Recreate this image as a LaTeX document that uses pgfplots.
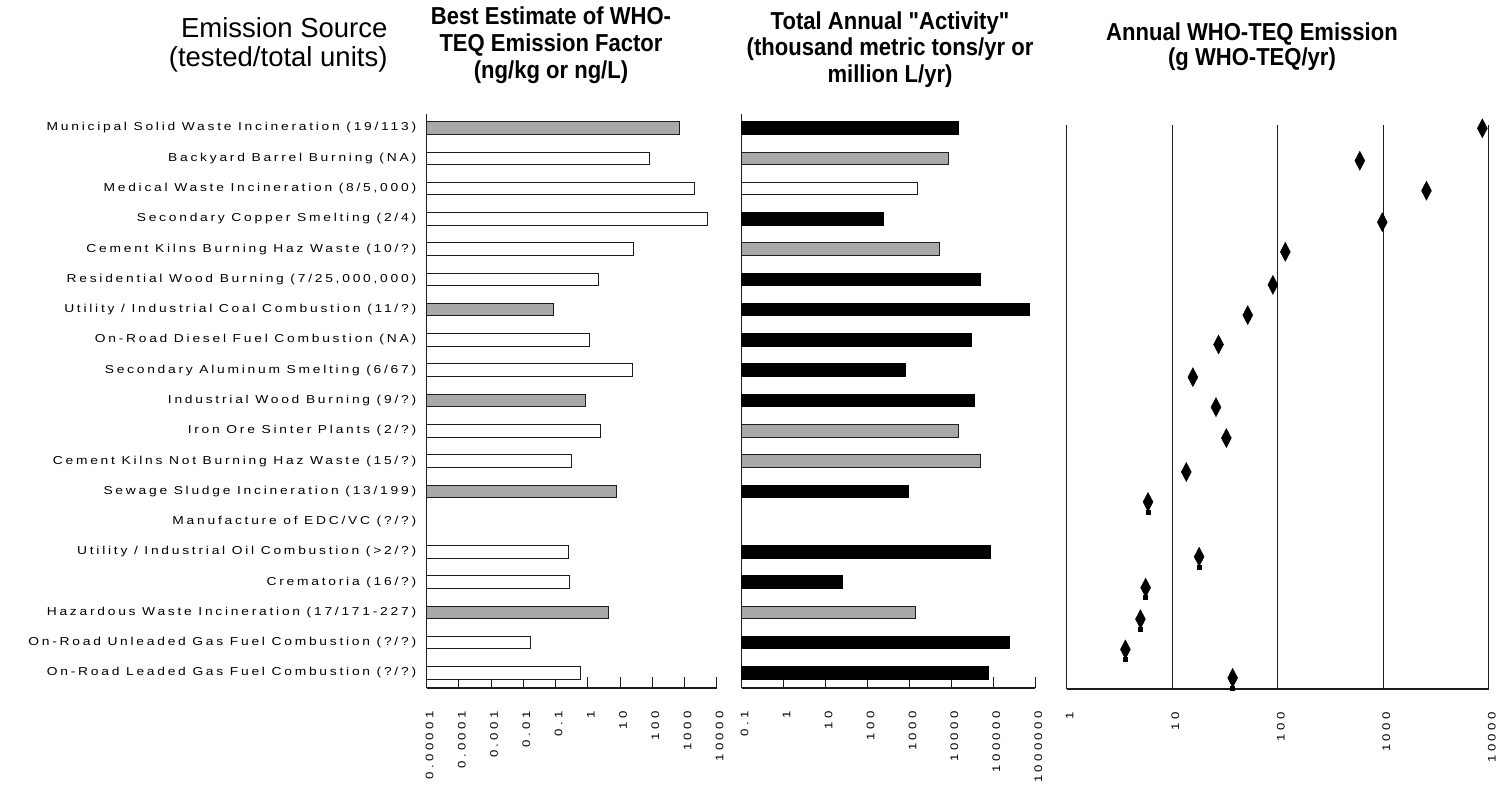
\documentclass[border=0pt]{standalone}
\usepackage{fontspec}
\setmainfont{Liberation Sans}
\newfontfamily\catfont[FakeStretch=1.2, LetterSpace=24]{Liberation Sans}
\newfontfamily\tickfont[FakeStretch=1.2, LetterSpace=30]{Liberation Sans}
\newfontfamily\headfont[FakeStretch=0.9]{Liberation Sans}
\usepackage{pgfplots}
\pgfplotsset{compat=1.18}

\definecolor{barGray}{RGB}{168,168,168}
\definecolor{edge}{RGB}{30,30,30}

\tikzset{
  hbar/.style={xbar, bar width=12.5pt, bar shift=0pt, line width=1pt, draw=edge},
  boldhead/.style={anchor=base, font=\headfont\bfseries\fontsize{24.5}{26}\selectfont},
  plainhead/.style={anchor=base east, font=\fontsize{27.5}{28}\selectfont},
}
\newcommand\tickstyle{font=\tickfont\fontsize{11}{13}\selectfont,
  yshift=-20pt, xshift=3pt, rotate=90, anchor=east}

% rows are numbered from the top: source k sits at y = 20 - k
\begin{document}
\begin{tikzpicture}
\useasboundingbox (0pt,0pt) rectangle (1501pt,785pt);

% ---- column headings ----
\node[plainhead] at (391pt,747.4pt) {Emission Source};
\node[plainhead] at (391pt,718.5pt) {(tested/total units)};
\node[boldhead] at (551pt,760pt) {Best Estimate of WHO-};
\node[boldhead] at (551pt,733.4pt) {TEQ Emission Factor};
\node[boldhead] at (551pt,706.8pt) {(ng/kg or ng/L)};
\node[boldhead] at (890pt,755.8pt) {Total Annual "Activity"};
\node[boldhead] at (890pt,729.2pt) {(thousand metric tons/yr or};
\node[boldhead] at (890pt,702.6pt) {million L/yr)};
\node[boldhead] at (1252pt,744.2pt) {Annual WHO-TEQ Emission};
\node[boldhead] at (1252pt,719.4pt) {(g WHO-TEQ/yr)};

% ---- emission factors ----
\begin{axis}[
  scale only axis, clip=false,
  at={(426.7pt,97pt)}, anchor=south west,
  width=290pt, height=574pt,
  xmode=log, log origin x=infty, xminorticks=false,
  xmin=1e-5, xmax=1e4,
  ymin=0.505, ymax=19.4623,
  axis x line*=bottom, axis y line*=left,
  tick align=inside, major tick length=11pt,
  axis line style={line width=1.1pt, edge},
  x tick style={line width=1pt, edge},
  y tick style={draw=none},
  xtick={1e-5,1e-4,1e-3,1e-2,1e-1,1,10,100,1000,10000},
  xticklabels={0.00001,0.0001,0.001,0.01,0.1,1,10,100,1000,10000},
  xticklabel style/.expand once={\tickstyle},
  ytick={1,...,19},
  yticklabels={
    On-Road Leaded Gas Fuel Combustion (?/?),
    On-Road Unleaded Gas Fuel Combustion (?/?),
    Hazardous Waste Incineration (17/171-227),
    Crematoria (16/?),
    Utility / Industrial Oil Combustion (>2/?),
    Manufacture of EDC/VC (?/?),
    Sewage Sludge Incineration (13/199),
    Cement Kilns Not Burning Haz Waste (15/?),
    Iron Ore Sinter Plants (2/?),
    Industrial Wood Burning (9/?),
    Secondary Aluminum Smelting (6/67),
    On-Road Diesel Fuel Combustion (NA),
    Utility / Industrial Coal Combustion (11/?),
    {Residential Wood Burning (7/25,000,000)},
    Cement Kilns Burning Haz Waste (10/?),
    Secondary Copper Smelting (2/4),
    {Medical Waste Incineration (8/5,000)},
    Backyard Barrel Burning (NA),
    Municipal Solid Waste Incineration (19/113)},
  yticklabel style={font=\catfont\fontsize{11.5}{13}\selectfont, anchor=east, xshift=-7pt},
]
\addplot[hbar, fill=barGray] coordinates {
  (700,19) (0.085,13) (0.87,10) (7.8,7) (4.4,3)};
\addplot[hbar, fill=white] coordinates {
  (84,18) (2000,17) (5000,16) (27,15) (2.2,14) (1.1,12) (25,11) (2.5,9)
  (0.32,8) (0.25,5) (0.27,4) (0.017,2) (0.58,1)};
\end{axis}

% ---- annual activity ----
\begin{axis}[
  scale only axis, clip=false,
  at={(741.7pt,97pt)}, anchor=south west,
  width=293.6pt, height=574pt,
  xmode=log, log origin x=infty, xminorticks=false,
  xmin=0.1, xmax=1e6,
  ymin=0.505, ymax=19.4623,
  axis x line*=bottom, axis y line*=left,
  tick align=inside, major tick length=11pt,
  axis line style={line width=1.1pt, edge},
  x tick style={line width=1pt, edge},
  y tick style={draw=none},
  xtick={0.1,1,10,100,1000,10000,100000,1000000},
  xticklabels={0.1,1,10,100,1000,10000,100000,1000000},
  xticklabel style/.expand once={\tickstyle},
  ytick=\empty,
]
\addplot[hbar, fill=black, draw=black] coordinates {
  (15000,19) (235,16) (49000,14) (720000,13) (30000,12) (790,11) (36000,10)
  (930,7) (85000,5) (25,4) (245000,2) (76000,1)};
\addplot[hbar, fill=barGray] coordinates {
  (8500,18) (5200,15) (15000,9) (50000,8) (1380,3)};
\addplot[hbar, fill=white] coordinates {(1550,17)};
\end{axis}

% ---- annual emissions ----
\begin{axis}[
  scale only axis, clip=false,
  at={(1066.7pt,96pt)}, anchor=south west,
  width=422pt, height=564pt,
  xmode=log, xminorticks=false,
  xmin=1, xmax=1e4,
  ymin=0.472, ymax=19.099,
  axis x line*=bottom, axis y line*=left,
  tick align=inside, major tick length=11pt,
  axis line style={line width=1.1pt, edge},
  x tick style={line width=1pt, edge},
  y tick style={draw=none},
  xtick={1,10,100,1000,10000},
  xticklabels={1,10,100,1000,10000},
  xticklabel style/.expand once={\tickstyle},
  ytick=\empty,
  xmajorgrids, grid style={line width=1pt, edge},
]
\addplot[only marks, mark=diamond*, mark size=9.5pt, color=black,
  mark options={xscale=0.7}] coordinates {
  (8700,18.99) (600,17.92) (2570,16.93) (980,15.89) (118,14.91) (90,13.82)
  (52,12.82) (27.5,11.85) (15.7,10.77) (26,9.78) (32.6,8.76) (13.6,7.64)
  (5.9,6.65) (18,4.84) (5.6,3.82) (5.0,2.78) (3.6,1.78) (37.4,0.84)};
% short stems under the lower estimates
\addplot[only marks, mark=square*, mark size=2pt, color=black,
  mark options={yshift=-10pt}] coordinates {
  (5.9,6.65) (18,4.84) (5.6,3.82) (5.0,2.78) (3.6,1.78) (37.4,0.84)};
\end{axis}
\end{tikzpicture}
\end{document}
